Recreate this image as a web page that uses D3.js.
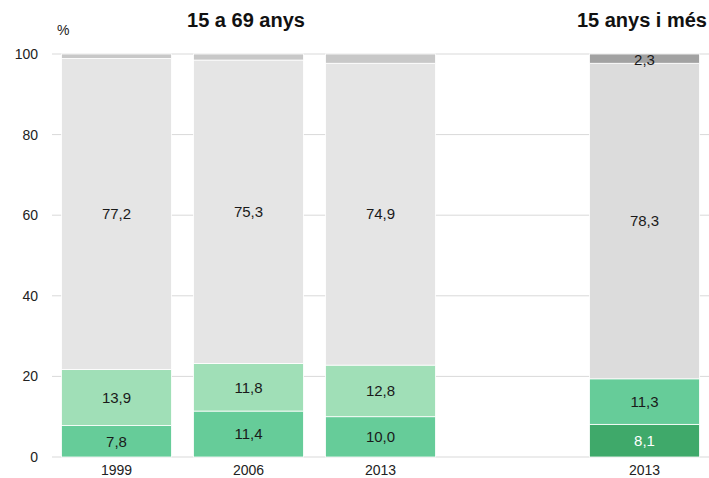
<!DOCTYPE html>
<html>
<head>
<meta charset="utf-8">
<script src="https://cdn.jsdelivr.net/npm/d3@7"></script>
<style>
  body { margin: 0; background: #fff; }
  text { font-family: "Liberation Sans", Arial, sans-serif; }
</style>
</head>
<body>
<div id="chart"></div>
<script>
// Data
const slots = ["1999", "2006", "2013", "gap", "2013b"];
const xLabels = ["1999", "2006", "2013", "", "2013"];
const seg1 = [7.8, 11.4, 10.0, 8.1];
const seg2 = [13.9, 11.8, 12.8, 11.3];
const seg3 = [77.2, 75.3, 74.9, 78.3];
const seg4 = [1.1, 1.5, 2.3, 2.3];
const barSlots = ["1999", "2006", "2013", "2013b"];
const yTicks = [0, 20, 40, 60, 80, 100];

// Colours: first three bars use one palette, last bar another
const colorsA = ["#66cc99", "#a0dfb7", "#e5e5e5", "#c8c8c8"];
const colorsB = ["#3fa96a", "#66cc99", "#dcdcdc", "#a2a2a2"];

const width = 709, height = 478;
const margin = { top: 54, right: 0, bottom: 21, left: 52 };

const svg = d3.select("#chart")
  .append("svg")
  .attr("width", width)
  .attr("height", height);

const x = d3.scaleBand()
  .domain(slots)
  .range([margin.left, width])
  .paddingInner(0.167)
  .paddingOuter(0.072);

const y = d3.scaleLinear()
  .domain([0, 100])
  .range([height - margin.bottom, margin.top]);

// Gridlines
svg.append("g")
  .selectAll("line")
  .data(yTicks)
  .enter().append("line")
  .attr("x1", margin.left)
  .attr("x2", width)
  .attr("y1", d => y(d))
  .attr("y2", d => y(d))
  .attr("stroke", "#d9d9d9")
  .attr("stroke-width", 1);

// Y tick labels
svg.append("g")
  .selectAll("text")
  .data(yTicks)
  .enter().append("text")
  .attr("x", 38)
  .attr("y", d => y(d))
  .attr("dy", "0.35em")
  .attr("text-anchor", "end")
  .attr("font-size", 14)
  .attr("fill", "#222")
  .text(d => d);

svg.append("text")
  .attr("x", 57)
  .attr("y", 35)
  .attr("font-size", 14)
  .attr("fill", "#222")
  .text("%");

// Stacked bars
const stacks = barSlots.map((s, i) => {
  const vals = [seg1[i], seg2[i], seg3[i], seg4[i]];
  let base = 0;
  return vals.map((v, k) => {
    const d = { slot: s, bar: i, k: k, v: v, y0: base, y1: base + v };
    base += v;
    return d;
  });
}).flat();

svg.append("g")
  .selectAll("rect")
  .data(stacks)
  .enter().append("rect")
  .attr("x", d => x(d.slot))
  .attr("width", x.bandwidth())
  .attr("y", d => y(d.y1))
  .attr("height", d => y(d.y0) - y(d.y1))
  .attr("fill", d => (d.bar === 3 ? colorsB : colorsA)[d.k])
  .attr("stroke", "#fff")
  .attr("stroke-width", 0.8);

// Value labels
svg.append("g")
  .selectAll("text")
  .data(stacks.filter(d => d.k < 3 || d.bar === 3))
  .enter().append("text")
  .attr("x", d => x(d.slot) + x.bandwidth() / 2)
  .attr("y", d => d.k === 3 ? y(d.y1) + 6 : y((d.y0 + d.y1) / 2))
  .attr("dy", "0.35em")
  .attr("text-anchor", "middle")
  .attr("font-size", 15)
  .attr("fill", d => (d.bar === 3 && d.k === 0) ? "#fff" : "#1a1a1a")
  .text(d => d.v.toFixed(1).replace(".", ","));

// X labels
svg.append("g")
  .selectAll("text")
  .data(slots)
  .enter().append("text")
  .attr("x", d => x(d) + x.bandwidth() / 2)
  .attr("y", 475)
  .attr("text-anchor", "middle")
  .attr("font-size", 14)
  .attr("fill", "#222")
  .text((d, i) => xLabels[i]);

// Group titles
svg.append("text")
  .attr("x", 246)
  .attr("y", 27)
  .attr("text-anchor", "middle")
  .attr("font-size", 20)
  .attr("font-weight", "bold")
  .attr("fill", "#111")
  .text("15 a 69 anys");

svg.append("text")
  .attr("x", 707)
  .attr("y", 27)
  .attr("text-anchor", "end")
  .attr("font-size", 20)
  .attr("font-weight", "bold")
  .attr("fill", "#111")
  .text("15 anys i més");
</script>
</body>
</html>
